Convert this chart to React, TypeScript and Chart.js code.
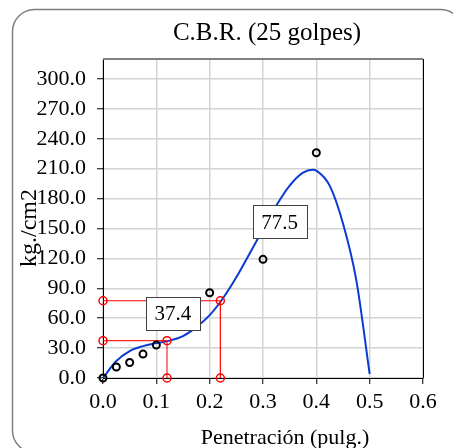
import React, { useEffect, useRef } from "react";
import { Chart, registerables } from "chart.js";

Chart.register(...registerables);

// Trend curve
const curveX = [0, 0.025, 0.05, 0.075, 0.1, 0.125, 0.15, 0.175, 0.2, 0.225, 0.25, 0.275, 0.3, 0.325, 0.35, 0.375, 0.393, 0.4, 0.425, 0.45, 0.475, 0.5];
const curveY = [0, 17, 27, 32, 35, 37.5, 42, 51, 63, 80, 101, 125, 149, 173, 193, 206, 209, 208, 193, 155, 98, 4];

// Measured points
const pointX = [0, 0.025, 0.05, 0.075, 0.1, 0.2, 0.3, 0.4];
const pointY = [0, 11, 15.5, 24, 33, 85.5, 119, 226];

// Red guide lines
const guide1X = [0, 0.12, 0.12];
const guide1Y = [37.4, 37.4, 0];
const guide2X = [0, 0.22, 0.22];
const guide2Y = [77.5, 77.5, 0];

// Value labels
const labelTexts = ["37.4", "77.5"];
const labelX = [0.131, 0.331];
const labelY = [65, 156.5];

const titleText = "C.B.R. (25 golpes)";
const xTitle = "Penetración (pulg.)";
const yTitle = "kg./cm2";

const FONT = '"Liberation Serif", "Times New Roman", serif';

const zip = (xs: number[], ys: number[]) => xs.map((x, i) => ({ x, y: ys[i] }));

const decorPlugin = {
  id: "decor",
  beforeDraw(chart: any) {
    const ctx = chart.ctx;
    ctx.save();
    ctx.strokeStyle = "#7f7f7f";
    ctx.lineWidth = 1.5;
    ctx.beginPath();
    (ctx as any).roundRect(12.5, 9.5, 450, 443, 22);
    ctx.stroke();
    ctx.restore();
  },
  afterDatasetsDraw(chart: any) {
    const ctx = chart.ctx;
    const { left, right, top, bottom } = chart.chartArea;
    const xs = chart.scales.x;
    const ys = chart.scales.y;
    ctx.save();
    // frame
    ctx.strokeStyle = "#808080";
    ctx.lineWidth = 2;
    ctx.beginPath();
    ctx.moveTo(left, top);
    ctx.lineTo(right, top);
    ctx.stroke();
    ctx.strokeStyle = "#000";
    ctx.lineWidth = 1;
    ctx.beginPath();
    ctx.moveTo(right + 0.5, top);
    ctx.lineTo(right + 0.5, bottom);
    ctx.stroke();
    // labels
    ctx.font = `21px ${FONT}`;
    ctx.textAlign = "center";
    ctx.textBaseline = "middle";
    labelTexts.forEach((t, i) => {
      const cx = xs.getPixelForValue(labelX[i]);
      const cy = ys.getPixelForValue(labelY[i]);
      const w = 54, h = 33;
      ctx.fillStyle = "#fff";
      ctx.fillRect(Math.round(cx - w / 2) + 0.5, Math.round(cy - h / 2) + 0.5, w, h);
      ctx.strokeStyle = "#404040";
      ctx.lineWidth = 1;
      ctx.strokeRect(Math.round(cx - w / 2) + 0.5, Math.round(cy - h / 2) + 0.5, w, h);
      ctx.fillStyle = "#000";
      ctx.fillText(t, cx, cy + 1);
    });
    ctx.restore();
  },
  afterDraw(chart: any) {
    const ctx = chart.ctx;
    ctx.save();
    ctx.fillStyle = "#000";
    ctx.textAlign = "center";
    ctx.textBaseline = "alphabetic";
    ctx.font = `25px ${FONT}`;
    ctx.fillText(titleText, 267, 40);
    ctx.font = `22px ${FONT}`;
    ctx.fillText(xTitle, 285, 444);
    ctx.translate(36, 228);
    ctx.rotate(-Math.PI / 2);
    ctx.font = `24px ${FONT}`;
    ctx.fillText(yTitle, 0, 0);
    ctx.restore();
  },
};

export default function App() {
  const ref = useRef<HTMLCanvasElement>(null);
  useEffect(() => {
    if (!ref.current) return;
    const chart = new Chart(ref.current, {
      type: "scatter",
      data: {
        datasets: [
          {
            label: "points",
            data: zip(pointX, pointY),
            showLine: false,
            pointRadius: 3.5,
            pointBorderWidth: 2,
            pointBorderColor: "#000",
            pointBackgroundColor: "rgba(0,0,0,0)",
            clip: false,
            order: 0,
          },
          {
            label: "guide1",
            data: zip(guide1X, guide1Y),
            showLine: true,
            borderColor: "rgba(255,0,0,0.85)",
            borderWidth: 1.2,
            tension: 0,
            pointRadius: 4,
            pointBorderWidth: 1.5,
            pointBorderColor: "#ff0000",
            pointBackgroundColor: "rgba(0,0,0,0)",
            clip: false,
            order: 1,
          },
          {
            label: "guide2",
            data: zip(guide2X, guide2Y),
            showLine: true,
            borderColor: "#ff0000",
            borderWidth: 1.2,
            tension: 0,
            pointRadius: 4,
            pointBorderWidth: 1.5,
            pointBorderColor: "#ff0000",
            pointBackgroundColor: "rgba(0,0,0,0)",
            clip: false,
            order: 1,
          },
          {
            label: "curve",
            data: zip(curveX, curveY),
            showLine: true,
            borderColor: "#0a3cd2",
            borderWidth: 2,
            pointRadius: 0,
            cubicInterpolationMode: "monotone",
            order: 2,
          },
        ],
      },
      options: {
        responsive: false,
        animation: false,
        layout: { padding: { left: 0, right: 30, top: 59, bottom: 0 } },
        plugins: {
          legend: { display: false },
          title: { display: false },
          tooltip: { enabled: false },
        },
        scales: {
          x: {
            type: "linear",
            min: 0,
            max: 0.6,
            afterFit: (s: any) => { s.height = 70; },
            ticks: {
              stepSize: 0.1,
              color: "#000",
              font: { family: FONT, size: 22 },
              padding: 5,
              callback: (v: any) => Number(v).toFixed(1),
            },
            grid: { color: "#d4d4d4", lineWidth: 1.5, tickColor: "#000", tickLength: 6, tickWidth: 1 },
            border: { color: "#000", width: 1 },
          },
          y: {
            type: "linear",
            min: 0,
            max: 320,
            afterFit: (s: any) => { s.width = 103; },
            ticks: {
              stepSize: 30,
              includeBounds: false,
              color: "#000",
              font: { family: FONT, size: 22 },
              padding: 11,
              callback: (v: any) => Number(v).toFixed(1),
            },
            grid: { color: "#d4d4d4", lineWidth: 1.5, tickColor: "#000", tickLength: 6, tickWidth: 1 },
            border: { color: "#000", width: 1 },
          },
        },
      } as any,
      plugins: [decorPlugin],
    });
    return () => chart.destroy();
  }, []);
  return (
    <div style={{ position: "fixed", left: 0, top: 0, width: 453, height: 448, background: "#fff" }}>
      <canvas ref={ref} width={453} height={448} style={{ width: 453, height: 448, display: "block" }} />
    </div>
  );
}
